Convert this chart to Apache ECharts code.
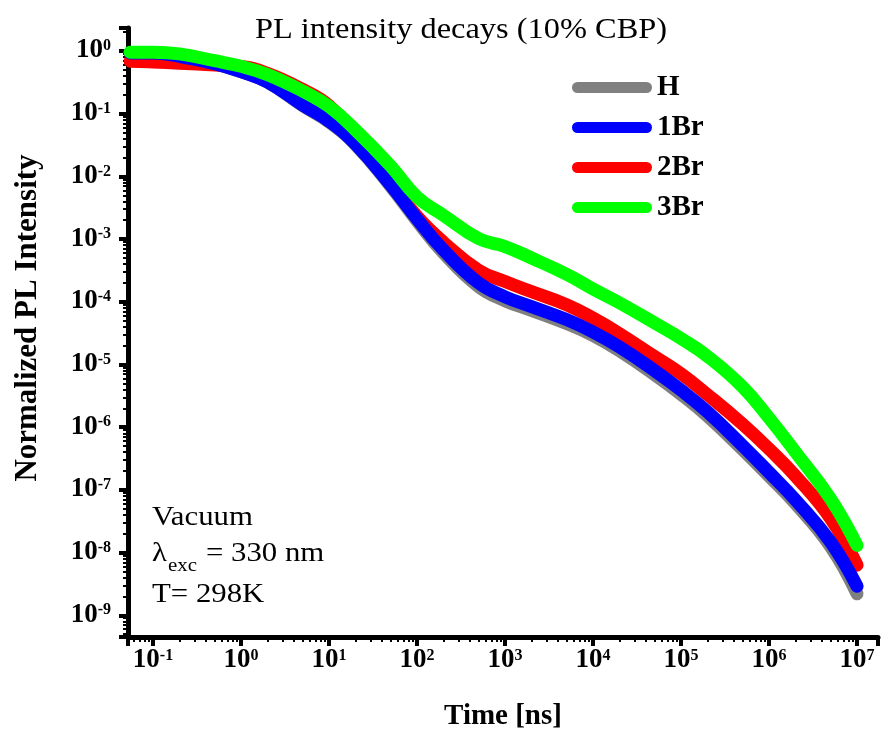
<!DOCTYPE html>
<html>
<head>
<meta charset="utf-8">
<script src="https://cdn.jsdelivr.net/npm/echarts@6/dist/echarts.min.js"></script>
<style>
html,body{margin:0;padding:0;background:#fff;}
#chart{width:881px;height:738px;}
</style>
</head>
<body>
<div id="chart"></div>
<script>
// ---- data (time in ns, normalized PL intensity) ----
const times = [0.055, 0.1, 0.2, 0.5, 1, 2, 5, 10, 20, 50, 100, 200, 500, 1e3, 2e3, 5e3, 1e4, 2e4, 5e4, 1e5, 2e5, 5e5, 1e6, 2e6, 5e6, 1e7];
const valH   = [0.93, 0.93, 0.82, 0.63, 0.47, 0.32, 0.135, 0.074, 0.032, 7.0e-3, 1.95e-3, 6.0e-4, 1.75e-4, 1.04e-4, 7.3e-5, 4.5e-5, 2.9e-5, 1.65e-5, 6.9e-6, 3.35e-6, 1.5e-6, 4.4e-7, 1.65e-7, 6.0e-8, 1.25e-8, 2.2e-9];
const val1Br = [0.93, 0.93, 0.82, 0.63, 0.47, 0.32, 0.138, 0.076, 0.033, 7.3e-3, 2.1e-3, 6.7e-4, 2.0e-4, 1.2e-4, 8.4e-5, 5.2e-5, 3.3e-5, 1.9e-5, 8.0e-6, 3.9e-6, 1.75e-6, 5.1e-7, 1.9e-7, 6.9e-8, 1.48e-8, 2.9e-9];
const val2Br = [0.69, 0.67, 0.64, 0.60, 0.57, 0.44, 0.245, 0.135, 0.045, 8.0e-3, 2.3e-3, 8.9e-4, 3.2e-4, 2.1e-4, 1.45e-4, 9.0e-5, 5.5e-5, 3.1e-5, 1.34e-5, 7.1e-6, 3.3e-6, 1.12e-6, 4.5e-7, 1.66e-7, 3.5e-8, 6.3e-9];
const val3Br = [0.96, 0.96, 0.90, 0.70, 0.57, 0.42, 0.23, 0.13, 0.055, 0.0147, 4.7e-3, 2.4e-3, 1.02e-3, 7.6e-4, 5.0e-4, 2.75e-4, 1.6e-4, 9.6e-5, 4.6e-5, 2.6e-5, 1.35e-5, 4.4e-6, 1.4e-6, 4.0e-7, 7.2e-8, 1.3e-8];

const seriesNames  = ['H', '1Br', '2Br', '3Br'];
const seriesColors = ['#808080', '#0000ff', '#ff0000', '#00ff00'];

const xTickExponents = ['-1', '0', '1', '2', '3', '4', '5', '6', '7'];
const yTickExponents = ['-9', '-8', '-7', '-6', '-5', '-4', '-3', '-2', '-1', '0'];

const titleText = 'PL intensity decays (10% CBP)';
const xAxisName = 'Time [ns]';
const yAxisName = 'Normalized PL Intensity';
const noteLines = ['Vacuum', 'T= 298K'];

// ---- chart ----
const SERIF = '"Liberation Serif","Times New Roman","DejaVu Serif",serif';

function expLabel(list) {
  return function (v) {
    const e = Math.log10(v);
    const r = Math.round(e);
    if (Math.abs(e - r) > 1e-6) return '';
    const s = String(r);
    if (list.indexOf(s) < 0) return '';
    return '{b|10}{s|' + s + '}';
  };
}
const labelRich = {
  b: {fontFamily: SERIF, fontWeight: 'bold', fontSize: 27, color: '#000', verticalAlign: 'bottom', lineHeight: 26},
  s: {fontFamily: SERIF, fontWeight: 'bold', fontSize: 16, color: '#000', verticalAlign: 'top', lineHeight: 26}
};

function pairs(vals) { return times.map((t, i) => [t, vals[i]]); }
const valsByName = {'H': valH, '1Br': val1Br, '2Br': val2Br, '3Br': val3Br};
const drawOrder = ['H', '2Br', '1Br', '3Br'];

const series = drawOrder.map(name => {
  const c = seriesColors[seriesNames.indexOf(name)];
  return {
    name: name, type: 'line', data: pairs(valsByName[name]),
    symbol: 'none', smooth: 0.45,
    lineStyle: {width: 13, color: c, cap: 'round', join: 'round'},
    itemStyle: {color: c},
    emphasis: {disabled: true},
    animation: false
  };
});

const axisCommon = {
  type: 'log', logBase: 10,
  axisLine: {show: true, onZero: false, lineStyle: {color: '#000', width: 5}},
  axisTick: {show: true, inside: false, length: 9, lineStyle: {color: '#000', width: 4}},
  minorTick: {show: true, splitNumber: 9, length: 5, lineStyle: {color: '#000', width: 2}},
  splitLine: {show: false},
  minorSplitLine: {show: false}
};

const chart = echarts.init(document.getElementById('chart'), null, {renderer: 'canvas'});
chart.setOption({
  animation: false,
  backgroundColor: '#fff',
  grid: {left: 128, right: 3, top: 28, bottom: 101, containLabel: false},
  xAxis: Object.assign({}, axisCommon, {
    min: 0.052, max: 1.73e7,
    axisLabel: {formatter: expLabel(xTickExponents), margin: 11, rich: labelRich},
    name: xAxisName, nameLocation: 'middle', nameGap: 65,
    nameTextStyle: {fontFamily: SERIF, fontWeight: 'bold', fontSize: 29, color: '#000'}
  }),
  yAxis: Object.assign({}, axisCommon, {
    min: 4.5e-10, max: 2.33,
    axisLabel: {formatter: expLabel(yTickExponents), margin: 17, rich: labelRich}
  }),
  legend: {
    data: seriesNames, orient: 'vertical', left: 567, top: 68,
    itemWidth: 80, itemHeight: 11, itemGap: 11, selectedMode: false,
    icon: 'path://M5.5,0 L74.5,0 A5.5,5.5 0 0 1 74.5,11 L5.5,11 A5.5,5.5 0 0 1 5.5,0 Z',
    textStyle: {fontFamily: SERIF, fontWeight: 'bold', fontSize: 29, color: '#000', lineHeight: 28}
  },
  graphic: [
    {type: 'text', x: 461, y: 30, scaleX: 1.08, silent: true,
     style: {text: titleText, font: '30px ' + SERIF, fill: '#000', align: 'center', verticalAlign: 'middle', textAlign: 'center', textVerticalAlign: 'middle'}},
    {type: 'text', x: 28, y: 318, rotation: Math.PI / 2, silent: true,
     style: {text: yAxisName, font: 'bold 31px ' + SERIF, fill: '#000', align: 'center', verticalAlign: 'middle', textAlign: 'center', textVerticalAlign: 'middle'}},
    {type: 'text', x: 152, y: 518, scaleX: 1.1, silent: true,
     style: {text: noteLines[0], font: '28px ' + SERIF, fill: '#000', align: 'left', verticalAlign: 'middle', textAlign: 'left', textVerticalAlign: 'middle'}},
    {type: 'text', x: 152, y: 554, scaleX: 1.1, silent: true,
     style: {text: 'λ', font: '28px ' + SERIF, fill: '#000', align: 'left', verticalAlign: 'middle', textAlign: 'left', textVerticalAlign: 'middle'}},
    {type: 'text', x: 168, y: 566, scaleX: 1.1, silent: true,
     style: {text: 'exc', font: '19px ' + SERIF, fill: '#000', align: 'left', verticalAlign: 'middle', textAlign: 'left', textVerticalAlign: 'middle'}},
    {type: 'text', x: 206, y: 554, scaleX: 1.1, silent: true,
     style: {text: '= 330 nm', font: '28px ' + SERIF, fill: '#000', align: 'left', verticalAlign: 'middle', textAlign: 'left', textVerticalAlign: 'middle'}},
    {type: 'text', x: 152, y: 595, scaleX: 1.1, silent: true,
     style: {text: noteLines[1], font: '28px ' + SERIF, fill: '#000', align: 'left', verticalAlign: 'middle', textAlign: 'left', textVerticalAlign: 'middle'}}
  ],
  series: series
});
</script>
</body>
</html>
